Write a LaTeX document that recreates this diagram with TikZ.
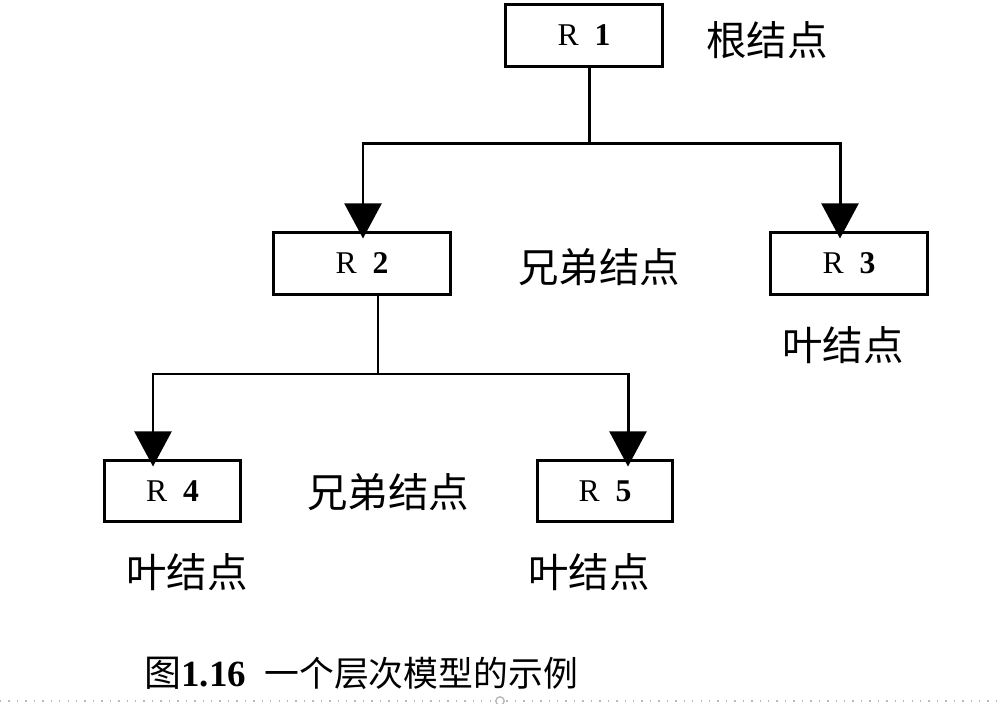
\documentclass[tikz,border=0pt]{standalone}
\usepackage{fontspec}
\setmainfont{Liberation Serif}
\newfontfamily\cjk{Noto Sans CJK SC}
\usetikzlibrary{arrows.meta, positioning, calc}

\begin{document}
\begin{tikzpicture}[x=0.01cm, y=-0.01cm, line width=0.85pt,
  rbox/.style={draw, inner sep=0pt, minimum height=0.61cm,
    font=\fontsize{9}{9}\selectfont},
  note/.style={font=\cjk\fontsize{11.5}{12}\selectfont},
  arr/.style={-{Triangle[width=10.5pt, length=10pt]}, shorten >=-2pt}]
  \useasboundingbox (0,0) rectangle (1003,704);
  % Record boxes
  \node[rbox, minimum width=1.56cm] (r1) at (584,35.5) {R\enspace\textbf{1}};
  \node[rbox, minimum width=1.76cm] (r2) at (362,263.5) {R\enspace\textbf{2}};
  \node[rbox, minimum width=1.56cm] (r3) at (849,263.5) {R\enspace\textbf{3}};
  \node[rbox, minimum width=1.35cm, minimum height=0.60cm] (r4) at (172.5,491) {R\enspace\textbf{4}};
  \node[rbox, minimum width=1.34cm, minimum height=0.60cm] (r5) at (605,491) {R\enspace\textbf{5}};
  % Labels
  \node[note] (root) at (767,40) {根结点};
  \node[note] (sib1) at (599,267) {兄弟结点};
  \node[note] (leaf3) at (843,345) {叶结点};
  \node[note] (sib2) at (388,492) {兄弟结点};
  \node[note] (leaf4) at (187,572) {叶结点};
  \node[note] (leaf5) at (589,572) {叶结点};
  % Branches
  \coordinate (j1) at (589,144);
  \coordinate (b2) at (363,144);
  \coordinate (b3) at (840,144);
  \draw (r1.south -| j1) -- (j1);
  \draw[arr] (j1) -| (r2.north -| b2);
  \draw[arr] (j1) -| (r3.north -| b3);
  \coordinate (j2) at (378,374);
  \coordinate (b4) at (153,374);
  \coordinate (b5) at (628,374);
  \draw (r2.south -| j2) -- (j2);
  \draw[arr] (j2) -| (r4.north -| b4);
  \draw[arr] (j2) -| (r5.north -| b5);
  % Caption
  \node[anchor=west, inner sep=0pt, font=\fontsize{10.5}{11}\selectfont] (caption) at (143,673)
    {{\cjk 图}\textbf{1.16}\hspace{0.5em}{\cjk\fontsize{9.9}{11}\selectfont 一个层次模型的示例}};
  % Page edge
  \draw[gray!55, dotted, line width=0.4pt] (0,701) -- (1003,701);
  \draw[gray!55, line width=0.4pt, fill=white] (500,701) circle[radius=1.2pt];
\end{tikzpicture}
\end{document}
